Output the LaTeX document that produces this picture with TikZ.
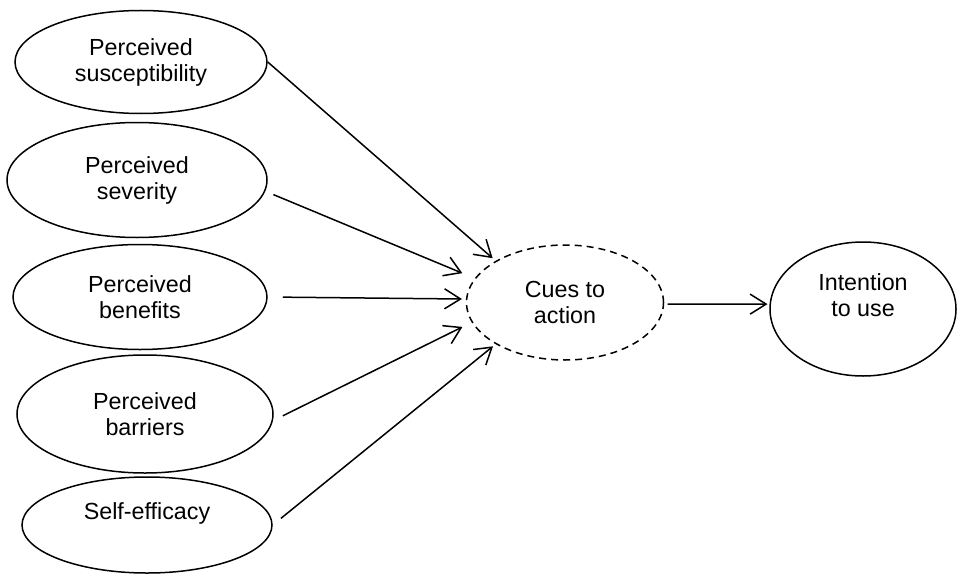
\documentclass[tikz,border=0pt]{standalone}
\usepackage{fontspec}
\setmainfont{Liberation Sans}
\usetikzlibrary{arrows.meta,shapes.geometric}
\begin{document}
\begin{tikzpicture}[x=1pt,y=-1pt,
  every node/.style={font=\fontsize{23.3}{26}\selectfont},
  factor/.style={draw, ellipse, line width=1.5pt, inner sep=0pt, align=center},
  cue/.style={factor, dash pattern=on 7pt off 5pt},
  link/.style={line width=1.5pt, -{Straight Barb[length=16pt,width=20pt]}}]
  \useasboundingbox (0,0) rectangle (957,575);

  % health belief constructs
  \node[factor, minimum width=252pt, minimum height=103pt] (sus) at (141,62) {Perceived\\susceptibility};
  \node[factor, minimum width=260pt, minimum height=115pt] (sev) at (137,180) {Perceived\\severity};
  \node[factor, minimum width=254pt, minimum height=105pt] (ben) at (140,297) {Perceived\\benefits};
  \node[factor, minimum width=256pt, minimum height=118pt] (bar) at (145,414) {Perceived\\barriers};
  \node[factor, minimum width=250pt, minimum height=96pt] (eff) at (147,525) {\raisebox{12pt}[\height][\depth]{Self-efficacy}};

  % mediator and outcome
  \node[cue, minimum width=197pt, minimum height=115pt] (cues) at (565,302.5) {Cues to\\action};
  \node[factor, minimum width=186pt, minimum height=134pt] (int) at (863,309)
    {\raisebox{11pt}[\height][\depth]{\begin{tabular}{@{}c@{}}Intention\\to use\end{tabular}}};

  % paths
  \draw[link, shorten >=4pt] (sus.east) -- (cues.149);
  \draw[link, shorten <=8.8pt, shorten >=13.4pt] (sev.-5.7) -- (cues.165);
  \draw[link, shorten <=15pt, shorten >=4pt] (ben.east) -- (cues.178);
  \draw[link, shorten <=11pt, shorten >=10.3pt] (bar.-3.1) -- (cues.-168.2);
  \draw[link, shorten <=10.5pt, shorten >=3.4pt] (eff.east) -- (cues.-149.6);
  \draw[link, shorten <=3.5pt, shorten >=2pt] (cues.-1.5) -- (int.177.5);
\end{tikzpicture}
\end{document}
